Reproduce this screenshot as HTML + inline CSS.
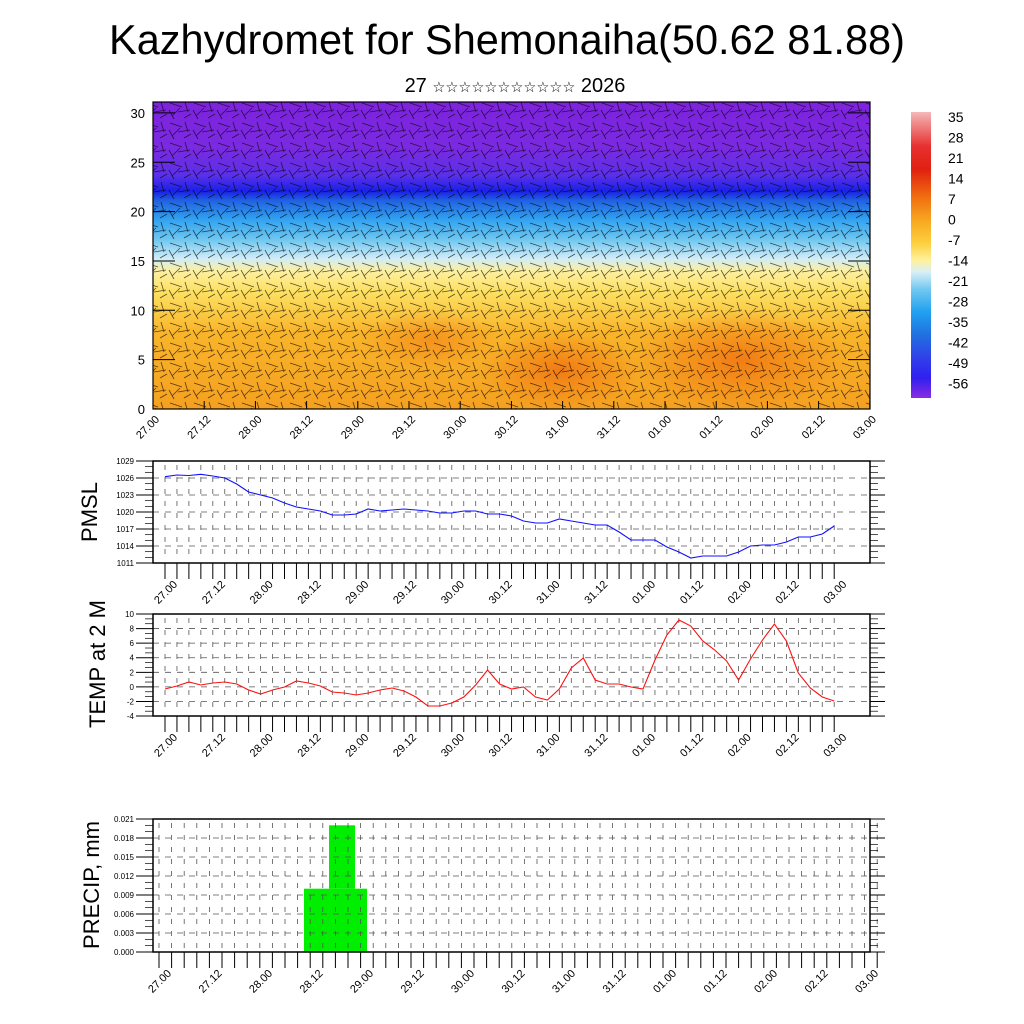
<!DOCTYPE html>
<html><head><meta charset="utf-8"><style>
html,body{margin:0;padding:0;background:#fff;width:1024px;height:1024px;overflow:hidden}
svg{display:block;font-family:"Liberation Sans",sans-serif}
</style></head><body>
<svg id="s" width="1024" height="1024" viewBox="0 0 1024 1024" xmlns="http://www.w3.org/2000/svg">
<defs>
<linearGradient id="tg" x1="0" y1="1" x2="0" y2="0">
<stop offset="0" stop-color="#f5a020"/>
<stop offset="0.25" stop-color="#f9b52a"/>
<stop offset="0.38" stop-color="#fde060"/>
<stop offset="0.45" stop-color="#fdf0a0"/>
<stop offset="0.49" stop-color="#d0ecf8"/>
<stop offset="0.55" stop-color="#70c8f0"/>
<stop offset="0.62" stop-color="#30a0f0"/>
<stop offset="0.68" stop-color="#2060e0"/>
<stop offset="0.71" stop-color="#1a20e8"/>
<stop offset="0.76" stop-color="#5a30e8"/>
<stop offset="0.85" stop-color="#7a2ae0"/>
<stop offset="1" stop-color="#7e22de"/>
</linearGradient>
<linearGradient id="cb" x1="0" y1="0" x2="0" y2="1">
<stop offset="0" stop-color="#f4b8b8"/>
<stop offset="0.12" stop-color="#e83030"/>
<stop offset="0.2" stop-color="#e02010"/>
<stop offset="0.3" stop-color="#f07010"/>
<stop offset="0.38" stop-color="#f8a820"/>
<stop offset="0.46" stop-color="#fdd040"/>
<stop offset="0.52" stop-color="#fef2a0"/>
<stop offset="0.56" stop-color="#d8eef8"/>
<stop offset="0.62" stop-color="#70c8f0"/>
<stop offset="0.7" stop-color="#20a0f0"/>
<stop offset="0.78" stop-color="#2070e0"/>
<stop offset="0.86" stop-color="#3040e8"/>
<stop offset="0.93" stop-color="#3020f0"/>
<stop offset="1" stop-color="#8a2be2"/>
</linearGradient>
<radialGradient id="dk"><stop offset="0" stop-color="#f07010" stop-opacity="0.8"/><stop offset="1" stop-color="#f07010" stop-opacity="0"/></radialGradient>
<pattern id="wb" width="24" height="20" patternUnits="userSpaceOnUse">
<path d="M2 3 L14 7 M10 12 L22 10 M4 16 L12 8 M16 18 L23 14 M1 10 L6 19 M17 2 L20 12" stroke="#000" stroke-width="0.8" stroke-opacity="0.65" fill="none"/>
</pattern>
</defs>
<text x="507" y="54" font-size="41.5" text-anchor="middle">Kazhydromet for Shemonaiha(50.62 81.88)</text>
<text x="515" y="92" font-size="20" text-anchor="middle">27 <tspan font-size="14.5">☆☆☆☆☆☆☆☆☆☆☆</tspan> 2026</text>
<rect x="153" y="102" width="717" height="307" fill="url(#tg)"/>
<ellipse cx="740" cy="360" rx="110" ry="50" fill="url(#dk)"/>
<ellipse cx="560" cy="370" rx="80" ry="40" fill="url(#dk)"/>
<ellipse cx="430" cy="340" rx="70" ry="30" fill="url(#dk)" opacity="0.6"/>
<rect x="153" y="102" width="717" height="307" fill="url(#wb)"/>
<rect x="153" y="102" width="717" height="307" fill="none" stroke="#000" stroke-width="1.2"/>
<rect x="911" y="112" width="20" height="286" fill="url(#cb)"/>
<g id="g"></g>
</svg>
<script>
const g=document.getElementById('g');let h='';
const L=(x1,y1,x2,y2,st)=>h+=`<line x1="${x1}" y1="${y1}" x2="${x2}" y2="${y2}" ${st||'stroke="#000" stroke-width="1"'}/>`;
const T=(x,y,t,fs,anc,extra)=>h+=`<text x="${x}" y="${y}" font-size="${fs}" text-anchor="${anc||'start'}" ${extra||''}>${t}</text>`;
const labs=['27.00','27.12','28.00','28.12','29.00','29.12','30.00','30.12','31.00','31.12','01.00','01.12','02.00','02.12','03.00'];
for(let v=0;v<=30;v+=5){const y=409-v*9.87;T(145,y+5,v,13,'end');L(153,y,175,y);L(848,y,870,y);}
for(let i=0;i<15;i++){const x=153+i*51.2;L(x,409,x,401);T(x+7,420,labs[i],11,'end',`transform="rotate(-45 ${x+7} 420)"`);}
const cl=['35','28','21','14','7','0','-7','-14','-21','-28','-35','-42','-49','-56'];
cl.forEach((c,i)=>T(948,122+i*20.5,c,14));
function plot(top,bot,left,right,x0,dx,nt,lx0,ldx,yl,fs){
 for(let k=0;k<=nt;k++){const x=x0+k*dx;L(x,bot,x,bot+16);
  h+=`<line x1="${x}" y1="${top+4}" x2="${x}" y2="${bot-4}" stroke="#555" stroke-width="0.8" stroke-dasharray="5 7"/>`;}
 yl.forEach(([v,y])=>{L(left-17,y,left,y);L(right,y,right+15,y);
  h+=`<line x1="${left}" y1="${y}" x2="${right}" y2="${y}" stroke="#555" stroke-width="0.8" stroke-dasharray="6 6"/>`;
  T(left-19,y+3,v,fs,'end');});
 for(let j=0;j<yl.length-1;j++){const y1=yl[j][1],y2=yl[j+1][1];for(let m=1;m<3;m++){const y=y1+(y2-y1)*m/3;L(left-8,y,left,y,'stroke="#000" stroke-width="0.7"');L(right,y,right+8,y,'stroke="#000" stroke-width="0.7"');}}
 for(let i=0;i<15;i++){const x=lx0+i*ldx+13;const y=bot+22;T(x,y,labs[i],11,'end',`transform="rotate(-45 ${x} ${y})"`);}
 h+=`<rect x="${left}" y="${top}" width="${right-left}" height="${bot-top}" fill="none" stroke="#000" stroke-width="1.5"/>`;
}
const pm=[];for(let v=1029;v>=1011;v-=3)pm.push([v,461+(1029-v)*5.667]);
plot(461,563,153,870,165,11.95,56,165,47.8,pm,8);
const py=[476.7,475,475.5,474.3,476,478,484,492,495,498,503,507,509,511,515,515,514,509,511,510,509,510,511,513,513,511,511,514,514,516,521,523,523,519,521,523,525,525,532,540,540,540,547,552,558,556,556,556,552,546,545,545,542,537,537,534,526];
h+=`<polyline fill="none" stroke="#1010ff" stroke-width="1.1" points="${py.map((y,i)=>(165+i*11.95).toFixed(1)+','+y).join(' ')}"/>`;
const tm=[];for(let v=10;v>=-4;v-=2)tm.push([v,614+(10-v)*7.29]);
plot(614,716,153,870,165,11.95,56,165,47.8,tm,8);
const ty=[689,686,682,685,683,682,684,690,694,690,687,681,683,686,692,693,695,693,690,688,691,697,706,706,703,697,685,670,684,689,687,697,700,689,668,658,680,684,684,687,689,660,635,620,626,641,650,661,680,659,640,624,641,673,688,697,701];
h+=`<polyline fill="none" stroke="#ff1010" stroke-width="1.1" points="${ty.map((y,i)=>(165+i*11.95).toFixed(1)+','+y).join(' ')}"/>`;
h+=`<rect x="304" y="888.7" width="63" height="63.3" fill="#00ee00"/><rect x="329" y="825.3" width="26" height="63.4" fill="#00ee00"/>`;
const pr=[];for(let k=0;k<=7;k++){const v=0.021-k*0.003;pr.push([v.toFixed(3),819+k*19]);}
plot(819,952,153,870,159,12.6,57,159,50.5,pr,8);
g.innerHTML=h;
</script>
<div style="position:absolute;left:0;top:0;width:1024px;height:1024px;pointer-events:none">
<div style="position:absolute;left:90px;top:512px;transform:translate(-50%,-50%) rotate(-90deg);font:22px 'Liberation Sans',sans-serif;white-space:nowrap">PMSL</div>
<div style="position:absolute;left:98px;top:664px;transform:translate(-50%,-50%) rotate(-90deg);font:22px 'Liberation Sans',sans-serif;white-space:nowrap">TEMP at 2 M</div>
<div style="position:absolute;left:92px;top:885px;transform:translate(-50%,-50%) rotate(-90deg);font:22px 'Liberation Sans',sans-serif;white-space:nowrap">PRECIP, mm</div>
</div>
</body></html>
